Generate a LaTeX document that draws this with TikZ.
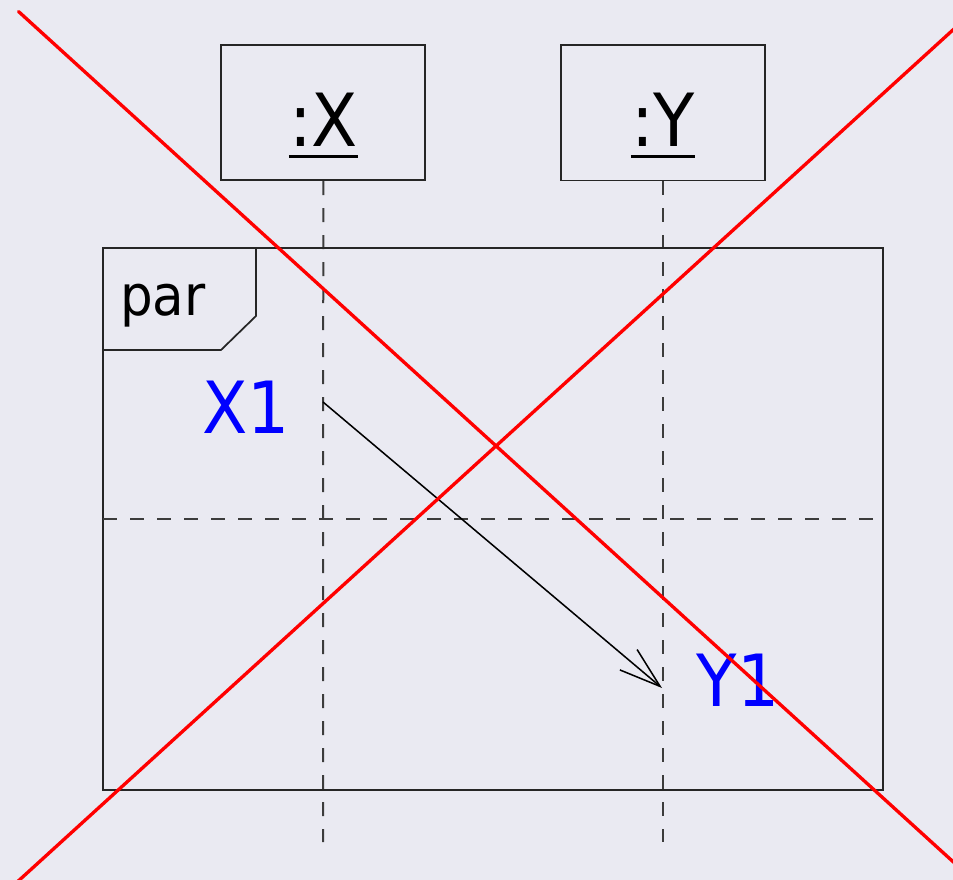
\documentclass[tikz,border=0pt]{standalone}
\usepackage{fontspec}
\setmainfont{DejaVu Sans}
\usetikzlibrary{arrows.meta}
\definecolor{bgc}{RGB}{234,234,242}
\definecolor{lifec}{RGB}{60,60,60}
\tikzset{
  objbox/.style={draw=black!85, line width=1.4pt, inner sep=0pt, minimum width=153pt, minimum height=101.6pt},
  objtext/.style={inner sep=0pt, anchor=base, font=\fontsize{55}{60}\selectfont, text=black},
  msgtext/.style={inner sep=0pt, anchor=base, font=\fontsize{54}{60}\selectfont, text=blue},
  frametext/.style={inner sep=0pt, anchor=base west, font=\fontsize{42}{48}\selectfont, text=black},
  lifeline/.style={draw=lifec, line width=1.5pt, dash pattern=on 10.5pt off 9.75pt},
  framestyle/.style={draw=black!85, line width=1.3pt},
  msgarrow/.style={draw=black, line width=1.15pt, -{Straight Barb[length=31pt, width=20pt, line width=1.15pt]}},
  crossline/.style={draw=red, line width=2.5pt},
}
\newcommand{\sx}[1]{\scalebox{0.92}[1]{#1}}
\begin{document}
\begin{tikzpicture}[x=0.75pt, y=-0.75pt]
\fill[bgc] (0,0) rectangle (953,880);
\useasboundingbox (0,0) rectangle (953,880);
\clip (0,0) rectangle (953,880);

% object boxes
\node[objbox] (bx) at (323.3,112.5) {};
\node[objbox] (by) at (663,112.8) {};
\node[objtext] (tx) at (323.5,147) {\sx{:X}};
\node[objtext] (ty) at (663,147) {\sx{:Y}};
\draw[line width=2.2pt] ([yshift=-7pt]tx.base west) -- ([yshift=-7pt]tx.base east);
\draw[line width=2.2pt] ([yshift=-7pt]ty.base west) -- ([yshift=-7pt]ty.base east);

% lifelines
\coordinate (ex) at (323,842);
\coordinate (ey) at (663,842);
\draw[lifeline] (bx.south) -- (ex);
\draw[lifeline] (by.south) -- (ey);

% par frame
\draw[framestyle] (103,248) rectangle (883,790);
\draw[framestyle] (103,350) -- (221,350) -- (256,316) -- (256,248);
\node[frametext] (par) at (120,316) {\sx{par}};
\coordinate (dl) at (103,519);
\coordinate (dr) at (883,519);
\draw[lifeline] (dl) -- (dr);

% message
\coordinate (m1) at (323,402);
\coordinate (m2) at (662,688);
\draw[msgarrow] (m1) -- (m2);
\node[msgtext] (lx1) at (246,434) {\sx{X1}};
\node[msgtext] (ly1) at (738,706) {\sx{Y1}};

% red cross
\coordinate (c1a) at (18.5,11.5);
\coordinate (c1b) at (960,868);
\coordinate (c2a) at (960,23.5);
\coordinate (c2b) at (15,884);
\draw[crossline, line cap=round] (c1a) -- (c1b);
\draw[crossline] (c2a) -- (c2b);
\end{tikzpicture}
\end{document}
